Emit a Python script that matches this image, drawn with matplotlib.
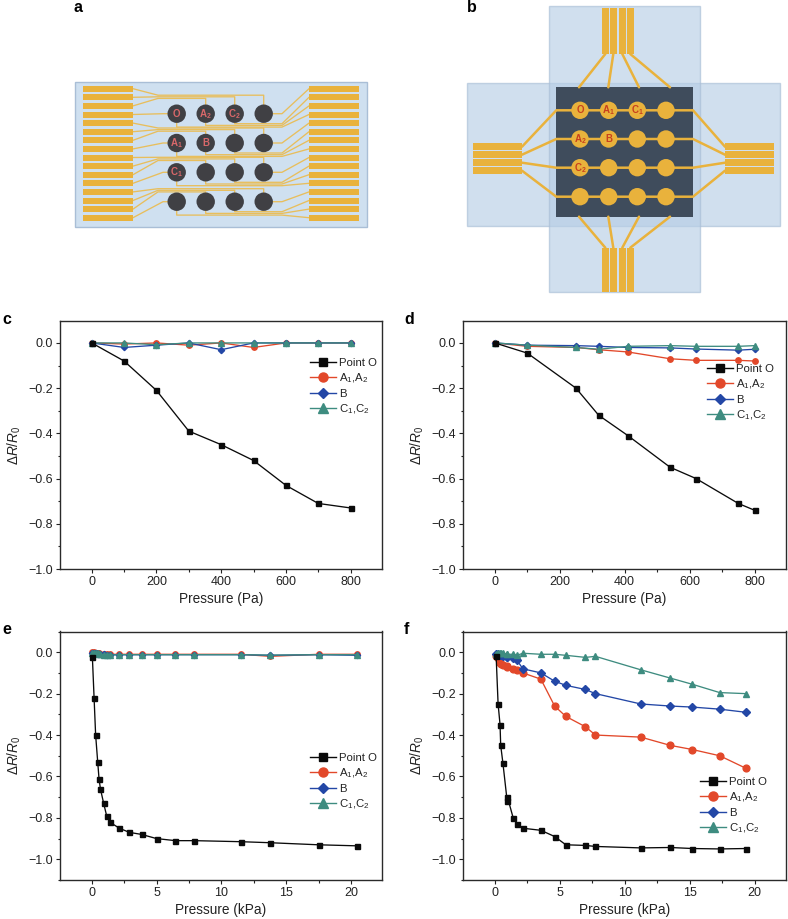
import matplotlib
matplotlib.use("Agg")
import matplotlib.pyplot as plt
from matplotlib.lines import Line2D
from matplotlib.patches import Rectangle, Circle
from matplotlib.ticker import MultipleLocator

W, H = 788, 919
plt.rcParams['font.family'] = ['Liberation Sans', 'DejaVu Sans']
plt.rcParams['mathtext.fontset'] = 'custom'
plt.rcParams['mathtext.rm'] = 'Liberation Sans'
plt.rcParams['mathtext.it'] = 'Liberation Sans:italic'
plt.rcParams['mathtext.bf'] = 'Liberation Sans:bold'
plt.rcParams['mathtext.default'] = 'regular'

# ---------- data ----------
series_labels = ['Point O', 'A$_1$,A$_2$', 'B', 'C$_1$,C$_2$']

c_x = [0, 100, 200, 300, 400, 500, 600, 700, 800]
c_O = [0, -.08, -.21, -.39, -.45, -.52, -.63, -.71, -.73]
c_A = [0, -.005, 0, -.01, 0, -.02, 0, 0, 0]
c_B = [0, -.02, -.01, 0, -.03, 0, 0, 0, 0]
c_C = [0, 0, -.008, 0, 0, 0, 0, 0, 0]

d_x = [0, 100, 250, 320, 410, 540, 620, 750, 800]
d_O = [0, -.045, -.2, -.32, -.41, -.55, -.6, -.71, -.74]
d_A = [0, -.015, -.02, -.03, -.04, -.07, -.077, -.077, -.08]
d_B = [0, -.01, -.012, -.015, -.02, -.022, -.027, -.032, -.028]
d_C = [0, -.01, -.02, -.028, -.015, -.012, -.015, -.015, -.012]

e_x = [.05, .18, .3, .46, .56, .67, .92, 1.15, 1.38, 2.13, 2.9, 3.85, 5, 6.46, 7.92, 11.5, 13.77, 17.5, 20.46]
e_O = [-.025, -.22, -.4, -.53, -.61, -.66, -.73, -.79, -.82, -.85, -.87, -.88, -.9, -.91, -.91, -.915, -.92, -.93, -.935]
e_A = [0, 0, -.002, -.005, -.005, -.008, -.008, -.01, -.01, -.01, -.01, -.01, -.01, -.01, -.01, -.01, -.02, -.01, -.01]
e_B = [-.002, -.002, -.005, -.008, -.008, -.01, -.01, -.012, -.012, -.012, -.012, -.012, -.012, -.012, -.012, -.012, -.015, -.012, -.015]
e_C = [-.002, -.002, -.004, -.006, -.008, -.01, -.012, -.014, -.014, -.012, -.012, -.012, -.012, -.012, -.012, -.012, -.014, -.012, -.012]

f_x = [.1, .25, .4, .45, .62, .95, .97, 1.41, 1.72, 2.15, 3.54, 4.6, 5.46, 6.97, 7.74, 11.23, 13.5, 15.2, 17.3, 19.3]
f_O = [-.02, -.25, -.35, -.45, -.535, -.72, -.70, -.8, -.83, -.85, -.86, -.89, -.93, -.933, -.938, -.945, -.943, -.948, -.95, -.948]
f_A = [-.02, -.03, -.05, -.055, -.06, -.065, -.07, -.08, -.085, -.1, -.13, -.26, -.31, -.36, -.4, -.41, -.45, -.47, -.5, -.56]
f_B = [-.01, -.01, -.015, -.015, -.02, -.025, -.025, -.03, -.04, -.08, -.1, -.14, -.16, -.18, -.2, -.25, -.26, -.265, -.275, -.29]
f_C = [-.01, -.005, -.005, -.005, -.005, -.01, -.01, -.01, -.015, -.005, -.01, -.01, -.015, -.025, -.02, -.085, -.125, -.155, -.195, -.2]

BLACK, RED, BLUE, TEAL = '#0a0a0a', '#E2482A', '#2347A6', '#3E8C80'
GOLD, SHEET, SHEET_E, DARK, DOT = '#E9B23C', '#CFE0F0', '#A9BED6', '#3F4C5C', '#404044'
LABEL_A, LABEL_B = '#D9686A', '#C8401E'

fig = plt.figure(figsize=(W / 100, H / 100), dpi=100)


def px_axes(l, t, r, b):
    return fig.add_axes([l / W, 1 - b / H, (r - l) / W, (b - t) / H])


# ---------- schematics, drawn in pixel space ----------
sch = fig.add_axes([0, 0, 1, 1], zorder=0)
sch.set_xlim(0, W)
sch.set_ylim(H, 0)
sch.axis('off')


def rect(x0, y0, x1, y1, fc, ec='none', lw=0.8, alpha=1, z=1):
    sch.add_patch(Rectangle((x0, y0), x1 - x0, y1 - y0, fc=fc, ec=ec, lw=lw, alpha=alpha, zorder=z))


def trace(xs, ys, lw=0.95, z=2, color='#E8BE5C'):
    sch.plot(xs, ys, color=color, lw=lw, zorder=z, solid_capstyle='round')


# panel a
a_cols = [176.7, 205.7, 234.7, 263.7]
a_rows = [113.7, 143, 172.3, 201.7]
a_top_gap = [18.5, 15, 15, 13]
a_pads = [88.7 + 8.6 * i for i in range(16)]
a_labels = {(0, 0): 'O', (0, 1): 'A$_2$', (0, 2): 'C$_2$', (1, 0): 'A$_1$', (1, 1): 'B', (2, 0): 'C$_1$'}
rect(74.7, 81.7, 366.7, 227.3, SHEET, SHEET_E, 1.0)
for y in a_pads:
    rect(83, y - 3, 133, y + 3, GOLD, z=3)
    rect(309, y - 3, 358.7, y + 3, GOLD, z=3)
for i, ry in enumerate(a_rows):
    top = ry - a_top_gap[i]
    for k in range(3):
        by = top + 1.6 * k
        cx = a_cols[3 - k]
        trace([133, 158, cx, cx], [a_pads[4 * i + k], by, by, ry])
    trace([133, 163, a_cols[0]], [a_pads[4 * i + 3], ry, ry])
    trace([a_cols[3], 282, 309], [ry, ry, a_pads[4 * i]])
    bot = ry + 10
    for k in range(3):
        by = bot + 3.4 - 1.7 * k
        trace([a_cols[k], a_cols[k], 282, 309], [ry, by, by, a_pads[4 * i + 3 - k]])
for i, ry in enumerate(a_rows):
    for j, cx in enumerate(a_cols):
        sch.add_patch(Circle((cx, ry), 9.2, fc=DOT, ec='none', zorder=4))
        if (i, j) in a_labels:
            sch.text(cx, ry, a_labels[(i, j)], color=LABEL_A, fontsize=7, fontweight='bold',
                     ha='center', va='center', zorder=5)

# panel b
b_cols = [580, 608.7, 637.3, 666]
b_rows = [110.3, 139, 167.7, 196.7]
b_labels = {(0, 0): 'O', (0, 1): 'A$_1$', (0, 2): 'C$_1$', (1, 0): 'A$_2$', (1, 1): 'B', (2, 0): 'C$_2$'}
b_vpads = [605.3, 613.3, 622.3, 630.3]
b_hpads = [146.7, 154.7, 162.7, 170.7]
b_top_end = [579, 608.3, 639, 670]
rect(467.3, 82.7, 780.3, 226, '#B7CEE6', SHEET_E, 1.0, alpha=0.65, z=1)
rect(549.3, 6, 700, 292, '#B7CEE6', SHEET_E, 1.0, alpha=0.65, z=1)
rect(556.3, 87.3, 693, 216.7, DARK, z=2)
for x, xe in zip(b_vpads, b_top_end):
    rect(x - 3.3, 8, x + 3.3, 54, GOLD, z=3)
    rect(x - 3.3, 247.7, x + 3.3, 292, GOLD, z=3)
    trace([x, xe], [54, 87.3], lw=1.8, color=GOLD)
    trace([x, xe], [247.7, 216.7], lw=1.8, color=GOLD)
for y, ye in zip(b_hpads, b_rows):
    rect(472.7, y - 3.3, 522, y + 3.3, GOLD, z=3)
    rect(725, y - 3.3, 774, y + 3.3, GOLD, z=3)
    trace([522, 556.3, 693, 725], [y, ye, ye, y], lw=1.8, z=3, color=GOLD)
for i, ry in enumerate(b_rows):
    for j, cx in enumerate(b_cols):
        sch.add_patch(Circle((cx, ry), 8.7, fc=GOLD, ec='none', zorder=4))
        if (i, j) in b_labels:
            sch.text(cx, ry, b_labels[(i, j)], color=LABEL_B, fontsize=7, fontweight='bold',
                     ha='center', va='center', zorder=5)

for letter, x, y in [('a', 74, 8), ('b', 467, 8), ('c', 2, 319), ('d', 404, 319), ('e', 2, 629), ('f', 404, 629)]:
    sch.text(x, y, letter, fontsize=11.5, fontweight='bold', color='black', ha='left', va='center')


# ---------- plots ----------
def panel(box, x, O, A, B, C, xlim, ylim, xmaj, xmin, xlabel, legend_xy, big):
    ax = px_axes(*box)
    ax.patch.set_alpha(0)
    k = 1.25 if big else 1.0
    marks = [(A, RED, 'o', 3.9 * k), (B, BLUE, 'D', 3.2 * k), (C, TEAL, '^', 3.9 * k), (O, BLACK, 's', 3.6)]
    for vals, col, m, ms in marks:
        ax.plot(x, vals, color=col, marker=m, ms=ms, mec=col, lw=0.95, clip_on=False)
    ax.set_xlim(*xlim)
    ax.set_ylim(*ylim)
    ax.xaxis.set_major_locator(MultipleLocator(xmaj))
    ax.xaxis.set_minor_locator(MultipleLocator(xmin))
    ax.yaxis.set_major_locator(MultipleLocator(0.2))
    ax.yaxis.set_minor_locator(MultipleLocator(0.1))
    ax.tick_params(which='major', length=3.2, width=0.8, labelsize=9.0, color='#222222',
                   labelcolor='#222222', pad=2.0)
    ax.tick_params(which='minor', length=1.8, width=0.8, color='#222222')
    for s in ax.spines.values():
        s.set_linewidth(1.0)
        s.set_color('#2a2a2a')
    ax.set_xlabel(xlabel, fontsize=9.8, color='#222222', labelpad=2.5)
    ax.set_ylabel(r'$\Delta\mathit{R}/\mathit{R}_0$', fontsize=9.8, color='#222222', labelpad=4)
    handles = [Line2D([], [], color=c, marker=m, ms=s, mec=c, lw=1.0)
               for c, m, s in [(BLACK, 's', 6.0), (RED, 'o', 6.5), (BLUE, 'D', 5.6), (TEAL, '^', 7.0)]]
    lx, ly = legend_xy
    ax.legend(handles, series_labels, loc='upper left', frameon=False, fontsize=8.2,
              bbox_to_anchor=(lx / W, 1 - (ly - 6) / H), bbox_transform=fig.transFigure,
              borderpad=0, borderaxespad=0, labelspacing=0.32, handlelength=2.25, handletextpad=0.3,
              labelcolor='#222222')
    return ax


panel((60, 321, 382, 569), c_x, c_O, c_A, c_B, c_C, (-98, 897), (-1.0, 0.097), 200, 100,
      'Pressure (Pa)', (310, 364), False)
panel((463, 321, 786, 569), d_x, d_O, d_A, d_B, d_C, (-98, 897), (-1.0, 0.097), 200, 100,
      'Pressure (Pa)', (707, 370), False)
panel((60, 631.5, 382, 880), e_x, e_O, e_A, e_B, e_C, (-2.45, 22.4), (-1.1, 0.1), 5, 2.5,
      'Pressure (kPa)', (310, 759), False)
panel((463, 631.5, 786, 880), f_x, f_O, f_A, f_B, f_C, (-2.45, 22.4), (-1.1, 0.1), 5, 2.5,
      'Pressure (kPa)', (700, 783), True)

fig.savefig('out.png', dpi=100)
